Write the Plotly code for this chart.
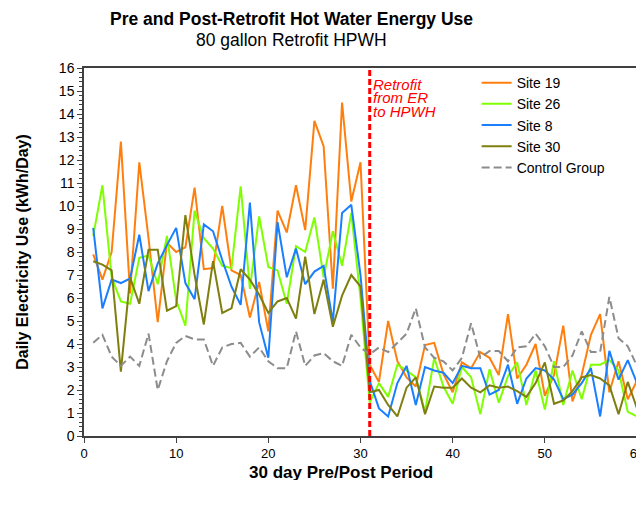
import plotly.graph_objects as go

# 30 jours avant / après le remplacement du chauffe-eau
days = list(range(1, 61))

site_19 = [7.9, 6.8, 8.0, 12.8, 6.2, 11.9, 8.6, 4.95, 8.4, 8.0,
           8.2, 10.8, 7.25, 7.3, 10.0, 7.2, 7.0, 5.15, 6.7, 4.55,
           9.8, 8.85, 10.9, 8.95, 13.7, 12.6, 6.4, 14.5, 10.2, 11.9,
           3.1, 2.35, 5.0, 3.25, 2.55, 2.15, 3.95, 4.05, 2.7, 1.9,
           3.2, 2.95, 3.65, 3.4, 2.65, 5.3, 2.5, 3.1, 4.0, 1.75,
           2.65, 4.8, 1.5, 2.65, 4.4, 5.3, 1.9, 3.25, 1.6, 2.4]
site_26 = [8.7, 10.9, 6.9, 5.85, 5.75, 7.75, 7.85, 6.6, 8.7, 5.9,
           4.8, 9.8, 8.6, 8.15, 7.4, 7.3, 10.85, 6.4, 9.55, 7.35,
           7.2, 5.75, 8.25, 8.0, 9.5, 6.9, 8.9, 7.4, 9.7, 6.0,
           1.45, 2.3, 1.7, 3.1, 2.85, 2.55, 1.05, 3.4, 2.15, 1.4,
           3.0, 2.55, 0.95, 2.9, 1.45, 2.6, 3.2, 1.35, 2.85, 1.15,
           3.25, 1.35, 2.85, 1.6, 3.1, 3.1, 3.3, 2.85, 1.05, 0.85]
site_8 = [9.05, 5.55, 6.8, 6.65, 6.85, 8.75, 6.3, 7.5, 8.3, 9.05,
          6.65, 5.95, 9.2, 8.9, 7.65, 6.5, 5.7, 10.15, 4.95, 3.4,
          9.3, 6.9, 8.15, 6.6, 7.15, 7.4, 4.95, 9.7, 10.05, 7.0,
          2.4, 1.2, 0.85, 2.3, 3.05, 1.35, 3.0, 2.85, 2.75, 2.3,
          3.05, 2.95, 2.95, 1.8, 2.0, 3.1, 1.4, 2.5, 2.95, 2.85,
          2.45, 1.6, 1.8, 2.3, 2.95, 0.85, 3.7, 2.45, 3.3, 2.3]
site_30 = [7.6, 7.45, 7.2, 2.8, 6.9, 5.75, 8.1, 8.1, 5.45, 5.65,
           9.6, 7.0, 4.85, 7.6, 5.35, 5.55, 7.25, 6.8, 6.15, 5.35,
           5.85, 6.0, 5.1, 7.8, 5.3, 6.8, 4.75, 6.1, 7.0, 6.5,
           1.9, 2.0, 1.35, 0.85, 2.1, 2.55, 0.95, 2.15, 2.1, 2.1,
           2.5, 2.1, 1.9, 2.2, 2.1, 2.15, 1.95, 1.7, 2.3, 3.2,
           1.4, 1.55, 1.95, 2.55, 2.65, 2.5, 2.2, 0.95, 2.35, 1.2]
control = [4.05, 4.4, 3.45, 3.05, 3.45, 3.05, 4.45, 2.0, 3.25, 4.05,
           4.35, 4.2, 4.2, 3.05, 3.85, 4.0, 4.05, 3.45, 3.85, 3.25,
           2.95, 2.95, 4.55, 3.05, 3.5, 3.6, 3.25, 3.05, 4.4, 3.85,
           3.55, 3.85, 3.65, 4.05, 4.45, 5.55, 3.85, 3.4, 3.25, 2.85,
           3.4, 4.9, 3.4, 3.7, 3.7, 3.25, 3.85, 3.9, 4.45, 3.9,
           3.0, 3.0, 3.5, 4.55, 3.65, 3.65, 6.05, 4.25, 3.9, 3.05]

retrofit_day = 31
retrofit_lines = ["Retrofit", "from ER", "to HPWH"]

FONT = "Liberation Sans, Arial, sans-serif"

series = [("Site 19", site_19, "#ff7f0e", None),
          ("Site 26", site_26, "#7fff00", None),
          ("Site 8", site_8, "#1a7fff", None),
          ("Site 30", site_30, "#7f7f10", None),
          ("Control Group", control, "#8c8c8c", "8px,4px")]

fig = go.Figure()
for nom, valeurs, couleur, dash in series:
    fig.add_trace(go.Scatter(x=days, y=valeurs, mode="lines", name=nom,
                             line=dict(color=couleur, width=2, dash=dash)))

# ligne du retrofit
fig.add_shape(type="line", xref="x", yref="y", x0=retrofit_day, x1=retrofit_day,
              y0=0, y1=16, line=dict(color="#ff0000", width=3, dash="6px,3px"))

for i, ligne in enumerate(retrofit_lines):
    fig.add_annotation(x=retrofit_day, y=15.3 - i * 0.6, xref="x", yref="y",
                       text="<i>" + ligne + "</i>", showarrow=False,
                       xanchor="left", yanchor="middle", xshift=1, height=13,
                       font=dict(family=FONT, size=15, color="#ff0000"))

fig.add_annotation(x=0.376, y=1.133, xref="paper", yref="paper",
                   text="<b>Pre and Post-Retrofit Hot Water Energy Use</b>",
                   showarrow=False, xanchor="center", yanchor="middle",
                   font=dict(family=FONT, size=17.5, color="#000000"))
fig.add_annotation(x=0.376, y=1.076, xref="paper", yref="paper",
                   text="80 gallon Retrofit HPWH",
                   showarrow=False, xanchor="center", yanchor="middle",
                   font=dict(family=FONT, size=17.5, color="#000000"))
# titre de l'axe x (légèrement décalé à gauche comme dans l'original)
fig.add_annotation(x=0.464, y=-0.098, xref="paper", yref="paper",
                   text="<b>30 day Pre/Post Period</b>",
                   showarrow=False, xanchor="center", yanchor="middle", height=16,
                   font=dict(family=FONT, size=17, color="#000000"))

fig.update_layout(
    width=644, height=508,
    margin=dict(l=76, r=8, t=60, b=80),
    paper_bgcolor="white", plot_bgcolor="white",
    font=dict(family=FONT, size=13, color="#000000"),
    showlegend=True,
    legend=dict(x=0.71, y=0.845, xanchor="left", yanchor="middle",
                bgcolor="rgba(0,0,0,0)", font=dict(size=14),
                tracegroupgap=0),
)
fig.update_xaxes(range=[0, 60], dtick=10, showgrid=False, zeroline=False,
                 showline=True, linecolor="#404040", linewidth=1.5, mirror=True,
                 ticks="outside", ticklen=5, tickcolor="#404040",
                 tickfont=dict(size=13))
fig.update_yaxes(range=[0, 16], dtick=1, showgrid=False, zeroline=False,
                 showline=True, linecolor="#404040", linewidth=1.5, mirror=True,
                 ticks="outside", ticklen=5, tickcolor="#404040",
                 minor=dict(dtick=0.2, ticks="outside", ticklen=3, tickcolor="#404040"),
                 tickfont=dict(size=14),
                 title=dict(text="<b>Daily Electricity Use (kWh/Day)</b>", font=dict(size=16), standoff=26))

fig.write_html("out.html")
